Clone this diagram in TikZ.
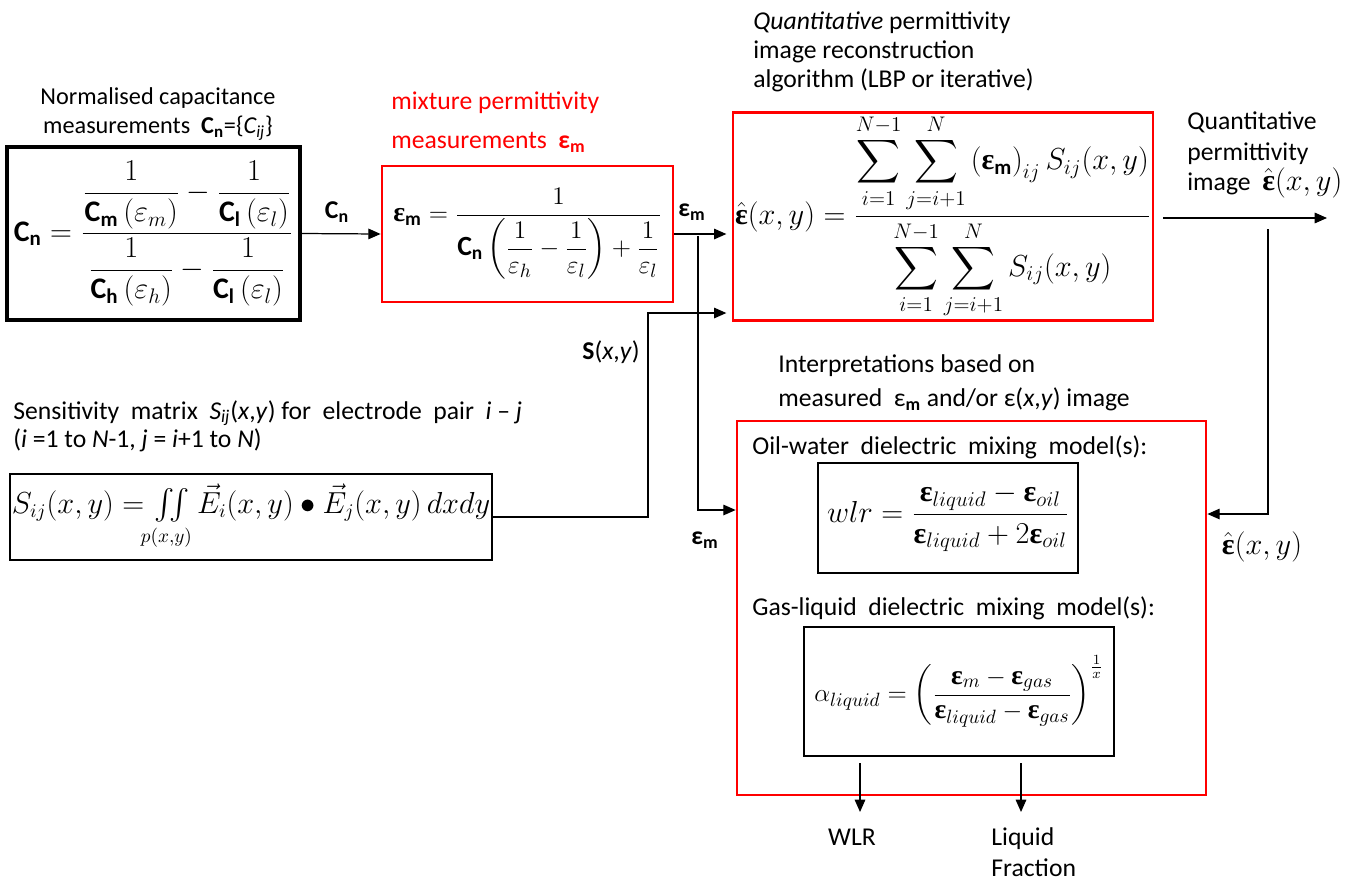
\documentclass[tikz,border=0pt]{standalone}
\usepackage{amsmath}
\usepackage{fontspec}
\setmainfont{Carlito}
\newfontfamily\timesfont{Liberation Serif}
\usepackage{tikz}
\usetikzlibrary{arrows.meta, positioning}

% bold upright epsilon used for permittivities
\newcommand{\beps}{\text{\timesfont\bfseries ε}}

\begin{document}
\begin{tikzpicture}[x=0.02cm, y=-0.02cm,
  txt/.style={font=\fontsize{14.6}{17.5}\selectfont, align=left, inner sep=0pt},
  eqn/.style={font=\fontsize{17}{20}\selectfont, inner sep=1pt},
  blackbox/.style={eqn, draw, line width=1.8pt},
  redbox/.style={eqn, draw=red, line width=1.6pt},
  thinbox/.style={eqn, draw, line width=0.7pt},
  arrow/.style={-{Triangle[length=7pt, width=6pt]}, line width=0.7pt}
]
  \path[use as bounding box] (0,0) rectangle (1364,883);

  % main boxes
  \node[blackbox, minimum width=5.86cm, minimum height=3.46cm] (capacitance) at (153.5,233.5)
    {$\mathbf{C}_{\mathbf{n}} = \dfrac{\dfrac{1}{\mathbf{C}_{\mathbf{m}}\left(\varepsilon_m\right)} - \dfrac{1}{\mathbf{C}_{\mathbf{l}}\left(\varepsilon_l\right)}}{\dfrac{1}{\mathbf{C}_{\mathbf{h}}\left(\varepsilon_h\right)} - \dfrac{1}{\mathbf{C}_{\mathbf{l}}\left(\varepsilon_l\right)}}$};
  \node[redbox, font=\fontsize{15.8}{19}\selectfont, minimum width=5.82cm, minimum height=2.72cm] (mixture) at (527.5,234)
    {$\beps_{\mathbf{m}} = \dfrac{1}{\mathbf{C}_{\mathbf{n}}\left(\dfrac{1}{\varepsilon_h} - \dfrac{1}{\varepsilon_l}\right) + \dfrac{1}{\varepsilon_l}}$};
  \node[redbox, minimum width=8.4cm, minimum height=4.14cm] (recon) at (943,216.5)
    {$\hat{\beps}(x,y) = \dfrac{\displaystyle\sum_{i=1}^{N-1}\sum_{j=i+1}^{N}\left(\beps_{\mathbf{m}}\right)_{ij} S_{ij}(x,y)}{\displaystyle\sum_{i=1}^{N-1}\sum_{j=i+1}^{N} S_{ij}(x,y)}$};
  \node[thinbox, font=\fontsize{16.3}{19}\selectfont, minimum width=9.48cm, minimum height=1.72cm] (sensitivity) at (251,517)
    {$S_{ij}(x,y) = \iint\limits_{p(x,y)} \vec{E}_i(x,y)\bullet\vec{E}_j(x,y)\,dxdy$};
  \node[redbox, minimum width=9.38cm, minimum height=7.48cm] (interp) at (971.5,608) {};
  \node[thinbox, minimum width=5.2cm, minimum height=2.2cm] (wlrmodel) at (948,518)
    {$wlr = \dfrac{\beps_{liquid} - \beps_{oil}}{\beps_{liquid} + 2\beps_{oil}}$};
  \node[thinbox, font=\fontsize{15.6}{19}\selectfont, minimum width=6.2cm, minimum height=2.58cm] (gasmodel) at (959,691.5)
    {$\alpha_{liquid} = \left(\dfrac{\beps_{m} - \beps_{gas}}{\beps_{liquid} - \beps_{gas}}\right)^{\frac{1}{x}}$};

  % captions
  \node[txt, align=center, font=\fontsize{13.8}{16.5}\selectfont] (capLabel) at (158,114)
    {Normalised capacitance\\measurements~~\textbf{C\textsubscript{n}}=\{\textit{C\textsubscript{ij}}\}};
  \node[txt, red, anchor=west] (mixLabel) at (391,122)
    {mixture permittivity\\[5pt]measurements~~\textbf{ε\textsubscript{m}}};
  \node[txt, anchor=west, font=\fontsize{14.6}{16.5}\selectfont] (reconLabel) at (753,52)
    {\textit{Quantitative} permittivity\\image reconstruction\\algorithm (LBP or iterative)};
  \node[txt, anchor=west, font=\fontsize{14.6}{17.5}\selectfont] (imageLabel) at (1187,155)
    {Quantitative\\permittivity\\image~~{\fontsize{17}{18}\selectfont$\hat{\beps}(x,y)$}};
  \node[txt, anchor=west, font=\fontsize{14.6}{16}\selectfont] (sensLabel) at (13,426)
    {Sensitivity~ matrix~ \textit{S\textsubscript{ij}}(\textit{x},\textit{y}) for~ electrode~ pair~ \textit{i} – \textit{j}\\(\textit{i} =1 to \textit{N}-1, \textit{j} = \textit{i}+1 to \textit{N})};
  \node[txt, anchor=west, font=\fontsize{14.6}{19.4}\selectfont] (interpLabel) at (778,383)
    {Interpretations based on\\measured~~ε\textsubscript{\textbf{m}} and/or ε(\textit{x},\textit{y}) image};
  \node[txt, anchor=west] (oilLabel) at (752,447) {Oil-water~ dielectric~ mixing~ model(s):};
  \node[txt, anchor=west] (gasLabel) at (752,608) {Gas-liquid~ dielectric~ mixing~ model(s):};

  % connector labels
  \node[txt] (cnTag) at (337,212) {\textbf{C\textsubscript{n}}};
  \node[txt] (emTag) at (692,212) {\textbf{ε\textsubscript{m}}};
  \node[txt] (emLowTag) at (705,540) {\textbf{ε\textsubscript{m}}};
  \node[txt] (sTag) at (611,352) {\textbf{S}(\textit{x},\textit{y})};
  \node[eqn] (epsTag) at (1262,547) {$\hat{\beps}(x,y)$};
  \node[txt] (wlrOut) at (852,837) {WLR};
  \node[txt, anchor=west] (fracOut) at (991,852) {Liquid\\Fraction};

  % turning points and free ends
  \coordinate (emSplit) at (698,236);
  \coordinate (emTurn) at (698,510);
  \coordinate (sTurn) at (648,313);
  \coordinate (imageStart) at (1163,218);
  \coordinate (imageEnd) at (1327,218);
  \coordinate (qSplit) at (1268,229);
  \coordinate (qTurn) at (1268,514);
  \coordinate (wlrFrom) at (860,763);
  \coordinate (wlrTo) at (860,812);
  \coordinate (fracFrom) at (1021,763);
  \coordinate (fracTo) at (1021,812);

  % connectors
  \draw[arrow] (capacitance.east) -- (mixture.west);
  \draw[arrow, shorten >=3pt] (mixture.east) -- (mixture.east -| recon.west);
  \draw[arrow] (emSplit) -- (emTurn) -- (emTurn -| interp.west);
  \draw[arrow, shorten >=3pt] (sensitivity.east) -| (sTurn) -- (sTurn -| recon.west);
  \draw[arrow] (imageStart) -- (imageEnd);
  \draw[arrow] (qSplit) -- (qTurn) -- (qTurn -| interp.east);
  \draw[arrow] (wlrFrom) -- (wlrTo);
  \draw[arrow] (fracFrom) -- (fracTo);
\end{tikzpicture}
\end{document}
